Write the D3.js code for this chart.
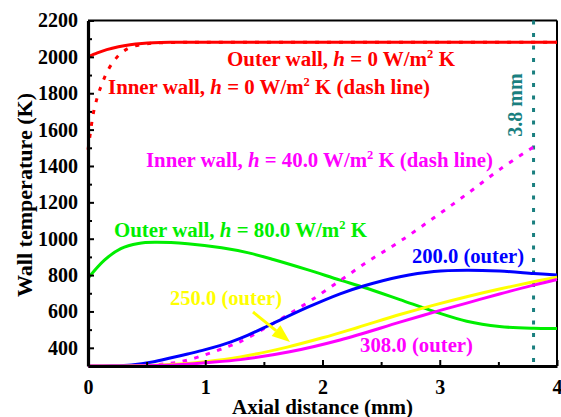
<!DOCTYPE html>
<html>
<head>
<meta charset="utf-8">
<script src="https://cdn.jsdelivr.net/npm/d3@7/dist/d3.min.js"></script>
<style>
  html, body { margin: 0; padding: 0; background: #fff; }
  svg { display: block; }
  text { font-family: "Liberation Serif", "Times New Roman", serif; font-weight: bold; }
</style>
</head>
<body>
<svg id="chart" width="561" height="417"></svg>
<script>
// Axial distance (mm) vs. wall temperature (K)
const outerH0   = [[0,2000],[0.08,2022],[0.16,2040],[0.26,2056],[0.36,2067],[0.46,2074],[0.56,2078],[0.7,2080],[1,2080],[2,2080],[3,2080],[4,2080]];
const innerH0   = [[0,1490],[0.02,1580],[0.045,1688],[0.08,1779],[0.117,1848],[0.173,1930],[0.23,1985],[0.29,2025],[0.37,2054],[0.5,2072],[0.6,2077],[0.8,2080],[1,2080],[2,2080],[3,2080],[4,2080]];
const innerH40  = [[0.4,300],[0.6,308],[0.8,325],[1.0,362],[1.19,406],[1.3,434],[1.5,505],[1.7,580],[1.9,660],[2.15,770],[2.4,880],[2.66,985],[2.95,1115],[3.23,1245],[3.51,1380],[3.8,1505]];
const outerH80  = [[0,782],[0.14,882],[0.28,946],[0.43,974],[0.57,980],[0.85,972],[1.14,950],[1.37,922],[1.58,886],[1.87,830],[2.15,772],[2.35,733],[2.66,665],[2.95,600],[3.23,546],[3.51,517],[3.8,507],[4,506]];
const outerH200 = [[0,300],[0.2,301],[0.37,306],[0.55,322],[0.71,345],[0.85,366],[1.0,390],[1.22,433],[1.365,470],[1.58,535],[1.87,622],[2.15,697],[2.35,740],[2.66,791],[2.95,820],[3.23,827],[3.51,822],[3.8,809],[4,800]];
const outerH250 = [[0,300],[0.4,301],[0.7,308],[1.0,324],[1.3,350],[1.7,404],[2.0,455],[2.3,512],[2.66,583],[2.95,635],[3.23,681],[3.51,723],[3.8,763],[4,788]];
const outerH308 = [[0,300],[0.5,301],[0.8,308],[1.0,318],[1.3,335],[1.72,378],[2.15,443],[2.66,541],[2.945,595],[3.23,646],[3.51,696],[3.8,745],[4,776]];
const markerX = 3.8;

const xTicks = [0, 1, 2, 3, 4];
const xMinorTicks = [0.5, 1.5, 2.5, 3.5];
const yTicks = [400, 600, 800, 1000, 1200, 1400, 1600, 1800, 2000, 2200];
const yMinorTicks = [500, 700, 900, 1100, 1300, 1500, 1700, 1900, 2100];

const serif = '"Liberation Serif", "Times New Roman", serif';
const svg = d3.select("#chart");
const x = d3.scaleLinear().domain([0, 4]).range([88, 557]);
const y = d3.scaleLinear().domain([300, 2200]).range([366, 20.5]);

// frame: top and right edges
svg.append("line").attr("x1", x(0)).attr("x2", x(4)).attr("y1", y(2200)).attr("y2", y(2200))
  .attr("stroke", "#000").attr("stroke-width", 2);
svg.append("line").attr("x1", x(4)).attr("x2", x(4)).attr("y1", y(2200)).attr("y2", y(300))
  .attr("stroke", "#000").attr("stroke-width", 2);

// vertical marker at 3.8 mm
svg.append("line").attr("x1", x(markerX)).attr("x2", x(markerX)).attr("y1", y(2200)).attr("y2", y(300))
  .attr("stroke", "#1a7f7f").attr("stroke-width", 3).attr("stroke-dasharray", "4,8.5");

const line = d3.line().x(d => x(d[0])).y(d => y(d[1])).curve(d3.curveCatmullRom.alpha(0.5));

function drawSeries(data, color, dash) {
  const p = svg.append("path").datum(data).attr("d", line)
    .attr("fill", "none").attr("stroke", color).attr("stroke-width", 3);
  if (dash) p.attr("stroke-dasharray", dash);
}

drawSeries(outerH80, "#00ee00");
drawSeries(innerH40, "#ff00ff", "4.5,7.5");
drawSeries(outerH200, "#0000ff");
drawSeries(outerH250, "#ffff00");
drawSeries(outerH308, "#ff00ff");
drawSeries(outerH0, "#ff0000");
drawSeries(innerH0, "#ff0000", "4,8");

// axes
const fmt = d3.format("d");
const yAxis = svg.append("g").attr("transform", `translate(${x(0)},0)`)
  .call(d3.axisLeft(y).tickValues(yTicks).tickFormat(fmt).tickSizeInner(-6).tickSizeOuter(0).tickPadding(10));
const yMinor = svg.append("g").attr("transform", `translate(${x(0)},0)`)
  .call(d3.axisLeft(y).tickValues(yMinorTicks).tickFormat("").tickSizeInner(-4).tickSizeOuter(0));
const xAxis = svg.append("g").attr("transform", `translate(0,${y(300)})`)
  .call(d3.axisBottom(x).tickValues(xTicks).tickFormat(fmt).tickSizeInner(-6).tickSizeOuter(0).tickPadding(14));
const xMinor = svg.append("g").attr("transform", `translate(0,${y(300)})`)
  .call(d3.axisBottom(x).tickValues(xMinorTicks).tickFormat("").tickSizeInner(-4).tickSizeOuter(0));

[yAxis, yMinor, xAxis, xMinor].forEach(g => {
  g.attr("font-family", serif).attr("font-size", 20).attr("font-weight", "bold");
  g.select(".domain").attr("stroke", "#000").attr("stroke-width", 3.2);
  g.selectAll(".tick line").attr("stroke", "#000").attr("stroke-width", 2);
  g.selectAll(".tick text").attr("fill", "#000")
    .attr("font-family", serif).attr("font-weight", "bold").attr("font-size", 20)
    .style("font-family", serif).style("font-weight", "bold").style("font-size", "20px");
});
xMinor.select(".domain").remove();
yMinor.select(".domain").remove();

// axis titles
svg.append("text").attr("x", 322.5).attr("y", 414).attr("text-anchor", "middle")
  .attr("font-size", 20).attr("textLength", 181).attr("lengthAdjust", "spacingAndGlyphs")
  .text("Axial distance (mm)");
svg.append("text").attr("transform", "translate(32,195) rotate(-90)").attr("text-anchor", "middle")
  .attr("font-size", 20).attr("textLength", 204).attr("lengthAdjust", "spacingAndGlyphs")
  .text("Wall temperature (K)");

// curve annotations
function hLabel(xp, yp, width, color, pre, hval, post) {
  const t = svg.append("text").attr("x", xp).attr("y", yp).attr("fill", color)
    .attr("font-size", 20).attr("textLength", width).attr("lengthAdjust", "spacingAndGlyphs");
  t.append("tspan").text(pre);
  t.append("tspan").attr("font-style", "italic").text("h");
  t.append("tspan").text(" = " + hval + " W/m");
  t.append("tspan").attr("font-size", 12).attr("dy", -8).text("2");
  t.append("tspan").attr("dy", 8).text(" K" + post);
}
hLabel(227, 66, 228, "#ff0000", "Outer wall, ", "0", "");
hLabel(108, 94, 322, "#ff0000", "Inner wall, ", "0", " (dash line)");
hLabel(146, 166.5, 347, "#ff00ff", "Inner wall, ", "40.0", " (dash line)");
hLabel(114, 236.5, 253, "#00ee00", "Outer wall, ", "80.0", "");

function plainLabel(xp, yp, width, color, txt) {
  svg.append("text").attr("x", xp).attr("y", yp).attr("fill", color)
    .attr("font-size", 20).attr("textLength", width).attr("lengthAdjust", "spacingAndGlyphs")
    .text(txt);
}
plainLabel(412, 263, 112, "#0000ff", "200.0 (outer)");
plainLabel(170, 305, 112, "#ffff00", "250.0 (outer)");
plainLabel(360, 351.5, 113, "#ff00ff", "308.0 (outer)");

svg.append("text").attr("transform", "translate(522,105) rotate(-90)").attr("text-anchor", "middle")
  .attr("fill", "#1a7f7f").attr("font-size", 20).text("3.8 mm");

// arrow pointing to the 250.0 curve
const tail = [253, 312], tip = [290, 342];
const ang = Math.atan2(tip[1] - tail[1], tip[0] - tail[0]);
const headLen = 18, headHalf = 7;
const bx = tip[0] - headLen * Math.cos(ang), by = tip[1] - headLen * Math.sin(ang);
svg.append("line").attr("x1", tail[0]).attr("y1", tail[1]).attr("x2", bx).attr("y2", by)
  .attr("stroke", "#ffff00").attr("stroke-width", 3);
svg.append("path")
  .attr("d", `M${tip[0]},${tip[1]}L${bx + headHalf * Math.sin(ang)},${by - headHalf * Math.cos(ang)}L${bx - headHalf * Math.sin(ang)},${by + headHalf * Math.cos(ang)}Z`)
  .attr("fill", "#ffff00");
</script>
</body>
</html>
